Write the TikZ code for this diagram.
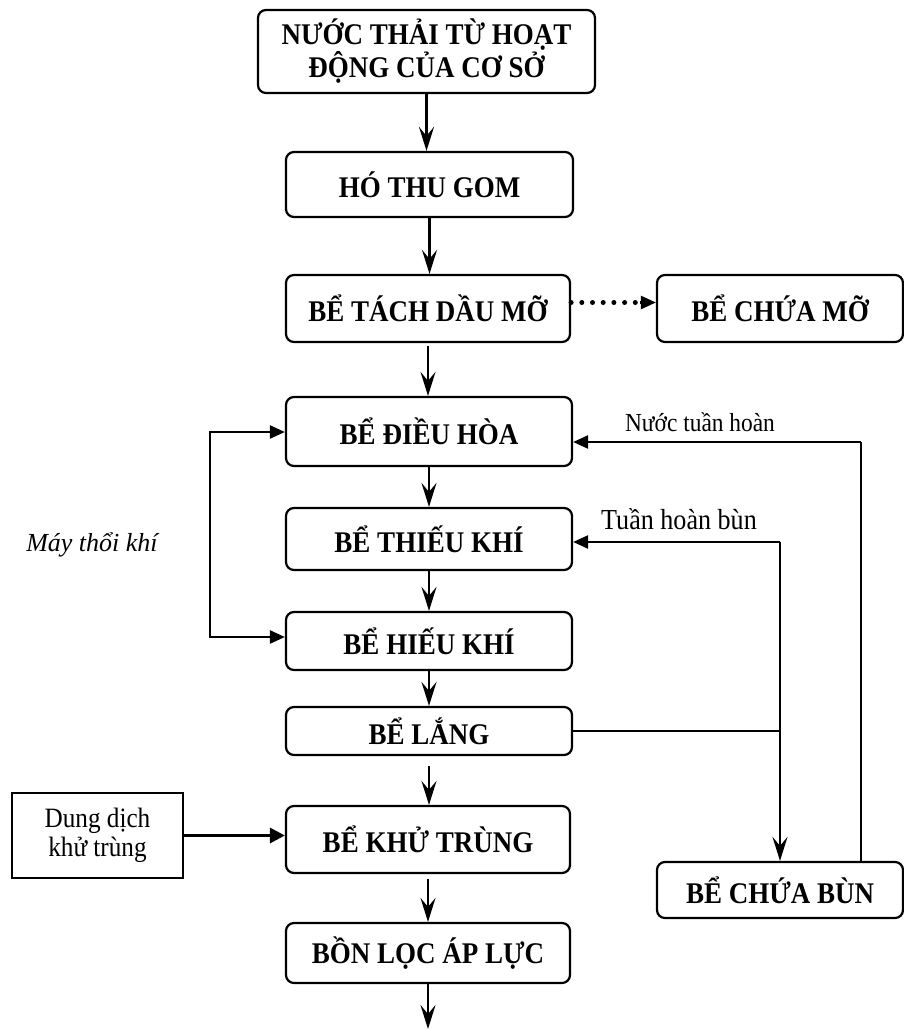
\documentclass[tikz,border=0pt]{standalone}
\usepackage{fontspec}
\setmainfont{Liberation Serif}
\newfontfamily\condfont{Liberation Serif}[FakeStretch=0.9]
\usetikzlibrary{arrows.meta,calc}
\tikzset{
  box/.style={draw, line width=2.2pt, rounded corners=8pt, inner sep=0pt, align=center,
    font=\condfont\fontsize{30}{31}\selectfont\bfseries},
  sqbox/.style={draw, line width=2.2pt, inner sep=0pt, align=center,
    font=\condfont\fontsize{28}{29}\selectfont},
  varr/.style={line width=2.4pt, -{Stealth[length=24pt,width=15pt,inset=9pt]}},
  harr/.style={line width=2.4pt, -{Triangle[length=15pt,width=13pt]}},
  thinline/.style={line width=1.8pt},
  lbl/.style={inner sep=0pt},
}
\begin{document}
\begin{tikzpicture}[x=1pt,y=-1pt]
\useasboundingbox (0,0) rectangle (904,1030);
\node[box, minimum width=337pt, minimum height=83pt] (b1) at (426.5,51.5) {NƯỚC THẢI TỪ HOẠT\\ĐỘNG CỦA CƠ SỞ};
\node[box, minimum width=287pt, minimum height=65pt] (b2) at (429.5,184.5) {HÓ THU GOM};
\node[box, minimum width=284pt, minimum height=67pt] (b3) at (428,308.5) {BỂ TÁCH DẦU MỠ};
\node[box, minimum width=246pt, minimum height=67pt] (mo) at (780,308.5) {BỂ CHỨA MỠ};
\node[box, minimum width=286pt, minimum height=69pt] (b4) at (429,431.5) {BỂ ĐIỀU HÒA};
\node[box, minimum width=286pt, minimum height=62pt] (b5) at (429,539) {BỂ THIẾU KHÍ};
\node[box, minimum width=286pt, minimum height=58pt] (b6) at (429,641) {BỂ HIẾU KHÍ};
\node[box, minimum width=286pt, minimum height=48pt] (b7) at (429,731) {BỂ LẮNG};
\node[box, minimum width=284pt, minimum height=67pt] (b8) at (428,839.5) {BỂ KHỬ TRÙNG};
\node[box, minimum width=284pt, minimum height=60pt] (b9) at (428,953) {BỒN LỌC ÁP LỰC};
\node[sqbox, minimum width=171pt, minimum height=85pt] (dd) at (97.5,835.5) {Dung dịch\\khử trùng};
\node[box, minimum width=246pt, minimum height=56pt] (bun) at (780,890) {BỂ CHỨA BÙN};

\node[lbl, font=\condfont\fontsize{26}{28}\selectfont] (l1) at (700,422) {Nước tuần hoàn};
\node[lbl, font=\condfont\fontsize{29}{31}\selectfont] (l2) at (679,519) {Tuần hoàn bùn};
\node[lbl, font=\fontsize{26}{28}\selectfont\itshape] (l3) at (92,545) {Máy thổi khí};

\coordinate (end) at (428,1029);
\coordinate (c1) at (861,442);
\coordinate (c2) at (780,542);
\coordinate (c3) at (210,432);
\coordinate (c4) at (210,637);

% main flow
\draw[varr] (b1.south) -- (b1.south |- b2.north);
\draw[varr] (b2.south) -- (b2.south |- b3.north);
\draw[varr, shorten <=3pt] (b3.south) -- (b3.south |- b4.north);
\draw[varr] (b4.south) -- (b4.south |- b5.north);
\draw[varr] (b5.south) -- (b5.south |- b6.north);
\draw[varr] (b6.south) -- (b6.south |- b7.north);
\draw[varr, shorten <=10pt] (b7.south) -- (b7.south |- b8.north);
\draw[varr, shorten <=5pt] (b8.south) -- (b8.south |- b9.north);
\draw[varr] (b9.south) -- (end);

% grease
\draw[line width=5pt, dash pattern=on 0pt off 10.7pt, line cap=round] ($(b3.east)+(0,-6)$) -- ($(mo.west)+(-14,-6)$);
\draw[harr] ($(mo.west)+(-16,-6)$) -- ($(mo.west)+(0,-6)$);

% recirculation
\draw[thinline] (bun.north -| c1) -- (c1);
\draw[harr] (c1) -- (c1 -| b4.east);
\draw[harr] (c2) -- (c2 -| b5.east);
\draw[varr] (c2) -- (c2 |- bun.north);
\draw[thinline] (b7.east) -- (b7.east -| c2);

% air blower
\draw[line width=2.4pt, {Triangle[length=15pt,width=13pt]}-{Triangle[length=15pt,width=13pt]}]
  (c3 -| b4.west) -- (c3) -- (c4) -- (c4 -| b6.west);

% disinfectant
\draw[line width=3.2pt, -{Triangle[length=15pt,width=15pt]}] (dd.east) -- (dd.east -| b8.west);
\end{tikzpicture}
\end{document}
